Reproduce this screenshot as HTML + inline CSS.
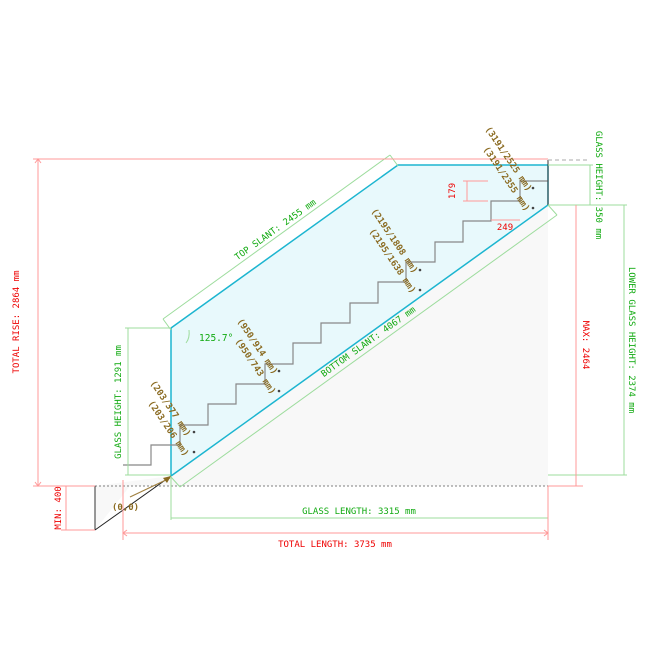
<!DOCTYPE html>
<html><head><meta charset="utf-8"><style>
body{margin:0;background:#fff}
svg{display:block;font-family:"DejaVu Sans Mono","Liberation Mono",monospace;font-size:9px}
</style></head><body>
<svg width="666" height="666" viewBox="0 0 666 666" xmlns="http://www.w3.org/2000/svg">
<polygon points="171,476 548,205 548,486 95,486" fill="#f8f8f8"/>
<polygon points="95,486 130,486 95,530" fill="#f8f8f8"/>
<polygon points="171,328 398,165 548,165 548,205 171,476" fill="#e8f9fc" stroke="#1cb5d0" stroke-width="1.5"/>
<polyline fill="none" stroke="#888" stroke-width="1.2" points="123,465 151,465 151,445 180,445 180,425 208,425 208,404 236,404 236,384 265,384 265,364 293,364 293,343 321,343 321,323 350,323 350,303 378,303 378,282 406,282 406,262 435,262 435,242 463,242 463,221 491,221 491,201 520,201 520,181 548,181"/>
<line x1="548" y1="160" x2="548" y2="205" stroke="#333" stroke-width="1"/>
<line x1="548" y1="160" x2="590" y2="160" stroke="#aaa" stroke-dasharray="4,3"/>
<line x1="95" y1="486" x2="548" y2="486" stroke="#555" stroke-width="0.8" stroke-dasharray="2,2"/>
<line x1="95" y1="486" x2="95" y2="530" stroke="#333"/>
<line x1="95" y1="530" x2="171" y2="476" stroke="#222"/>
<line x1="130" y1="497" x2="170" y2="478" stroke="#a08040" stroke-width="1.2"/>
<polygon points="171,476 163,478 167,483" fill="#8a6a20"/>
<text x="112" y="510" fill="#8a6a20" font-weight="bold">(0,0)</text>
<g stroke="#9ddc9d" fill="none" stroke-width="1">
<line x1="163" y1="319" x2="390" y2="155"/><line x1="163" y1="319" x2="171" y2="330"/><line x1="390" y1="155" x2="398" y2="166"/>
<line x1="180" y1="487" x2="557" y2="215"/><line x1="180" y1="487" x2="171" y2="477"/><line x1="557" y1="215" x2="548" y2="205"/>
<line x1="171" y1="476" x2="171" y2="520"/><line x1="548" y1="486" x2="548" y2="520"/><line x1="171" y1="518" x2="548" y2="518"/>
<line x1="128" y1="328" x2="128" y2="475"/><line x1="125" y1="328" x2="171" y2="328"/><line x1="125" y1="475" x2="171" y2="475"/>
<line x1="590" y1="165" x2="590" y2="205"/><line x1="548" y1="165" x2="593" y2="165"/><line x1="548" y1="205" x2="627" y2="205"/>
<line x1="624" y1="205" x2="624" y2="475"/><line x1="548" y1="475" x2="627" y2="475"/>
</g>
<path d="M189,330 Q190,338 186,343" stroke="#9ddc9d" fill="none"/>
<text x="199" y="341" fill="#1a1" font-size="9.5">125.7°</text>
<text x="359" y="514" fill="#1a1" text-anchor="middle">GLASS LENGTH: 3315 mm</text>
<text transform="translate(277,232) rotate(-35.7)" fill="#1a1" text-anchor="middle">TOP SLANT: 2455 mm</text>
<text transform="translate(370,344) rotate(-35.7)" fill="#1a1" text-anchor="middle">BOTTOM SLANT: 4067 mm</text>
<text transform="translate(121,402) rotate(-90)" fill="#1a1" text-anchor="middle">GLASS HEIGHT: 1291 mm</text>
<text transform="translate(596,185) rotate(90)" fill="#1a1" text-anchor="middle">GLASS HEIGHT: 350 mm</text>
<text transform="translate(629,340) rotate(90)" fill="#1a1" text-anchor="middle">LOWER GLASS HEIGHT: 2374 mm</text>
<g stroke="#f99" fill="none" stroke-width="1">
<line x1="33" y1="159" x2="548" y2="159"/><line x1="38" y1="159" x2="38" y2="486"/><line x1="33" y1="486" x2="95" y2="486"/>
<line x1="66" y1="486" x2="66" y2="530"/><line x1="61" y1="530" x2="95" y2="530"/>
<line x1="123" y1="480" x2="123" y2="540"/><line x1="548" y1="486" x2="548" y2="540"/><line x1="123" y1="533" x2="548" y2="533"/>
<line x1="576" y1="205" x2="576" y2="486"/><line x1="548" y1="486" x2="583" y2="486"/>
<polyline points="127,530 123,533 127,536"/><polyline points="544,530 548,533 544,536"/>
<polyline points="35,163 38,159 41,163"/><polyline points="35,482 38,486 41,482"/>
<line x1="463" y1="181" x2="488" y2="181"/><line x1="463" y1="201" x2="488" y2="201"/><line x1="467" y1="181" x2="467" y2="201"/>
<line x1="491" y1="220" x2="520" y2="220"/>
</g>
<text x="335" y="547" fill="#e00" text-anchor="middle">TOTAL LENGTH: 3735 mm</text>
<text transform="translate(19,322) rotate(-90)" fill="#e00" text-anchor="middle">TOTAL RISE: 2864 mm</text>
<text transform="translate(61,508) rotate(-90)" fill="#e00" text-anchor="middle">MIN: 400</text>
<text transform="translate(583,345) rotate(90)" fill="#e00" text-anchor="middle">MAX: 2464</text>
<text transform="translate(455,191) rotate(-90)" fill="#e00" text-anchor="middle">179</text>
<text x="505" y="230" fill="#e00" text-anchor="middle">249</text>
<g fill="#8a6a20" font-weight="bold">
<text transform="translate(150,383) rotate(56)">(203/377 mm)</text>
<text transform="translate(148,403) rotate(56)">(203/206 mm)</text>
<text transform="translate(237,321) rotate(56)">(950/914 mm)</text>
<text transform="translate(235,341) rotate(56)">(950/743 mm)</text>
<text transform="translate(371,211) rotate(56)">(2195/1808 mm)</text>
<text transform="translate(369,231) rotate(56)">(2195/1638 mm)</text>
<text transform="translate(485,129) rotate(56)">(3191/2525 mm)</text>
<text transform="translate(483,149) rotate(56)">(3191/2355 mm)</text>
</g>
<g fill="#444">
<circle cx="194" cy="432" r="1.3"/><circle cx="194" cy="452" r="1.3"/>
<circle cx="279" cy="371" r="1.3"/><circle cx="279" cy="391" r="1.3"/>
<circle cx="420" cy="270" r="1.3"/><circle cx="420" cy="290" r="1.3"/>
<circle cx="533" cy="188" r="1.3"/><circle cx="533" cy="208" r="1.3"/>
</g>
</svg>
</body></html>
